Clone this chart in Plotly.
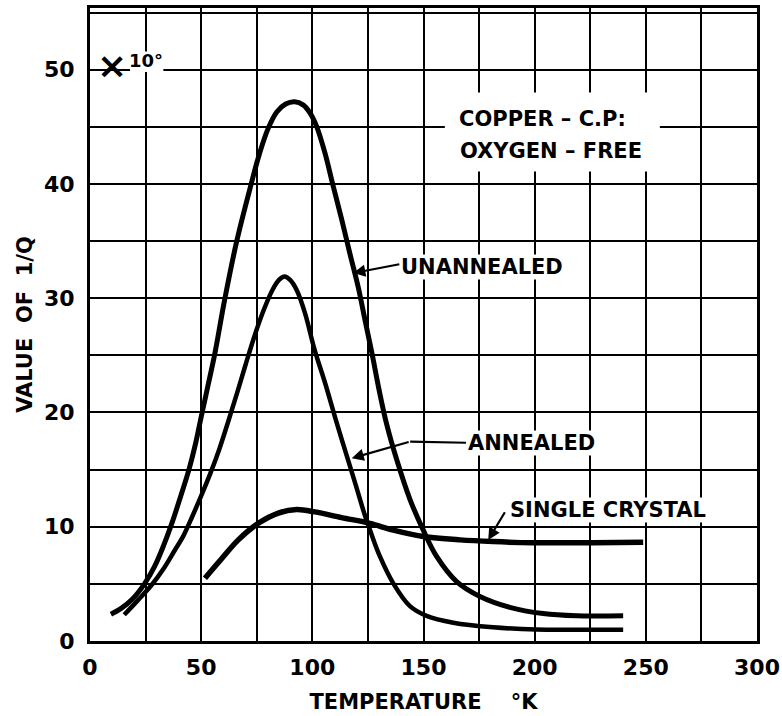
import plotly.graph_objects as go

# ---- data ----
unannealed_x = [9.4, 14.0, 19.0, 24.5, 29.0, 33.0, 37.0, 41.0, 44.5, 47.5, 50.0, 53.0,
                56.0, 60.5, 66.0, 72.5, 76.0, 80.0, 84.0, 88.0, 92.0, 96.0, 99.0, 102.0,
                105.7, 109.4, 113.2, 116.9, 120.6, 124.0, 127.0, 130.0, 133.4, 137.9,
                143.9, 149.9, 155.9, 164.9, 175.4, 188.8, 203.8, 218.8, 239.8]
unannealed_y = [2.35, 2.85, 3.65, 5.0, 6.5, 8.3, 10.4, 12.8, 15.0, 17.3, 19.6, 22.3,
                25.0, 29.8, 35.0, 40.0, 42.5, 44.8, 46.3, 47.0, 47.2, 46.9, 46.2, 45.0,
                42.7, 39.8, 36.9, 33.9, 31.0, 27.8, 25.0, 22.0, 19.0, 15.9,
                12.4, 9.7, 7.4, 5.2, 3.9, 2.95, 2.4, 2.2, 2.2]

annealed_x = [15.4, 21.7, 27.7, 33.0, 38.0, 42.0, 46.0, 50.0, 54.0, 58.0, 62.0, 66.0,
              70.0, 74.0, 78.0, 82.0, 85.0, 87.5, 90.0, 93.0, 96.7, 101.0, 105.7,
              110.2, 114.7, 119.3, 123.3, 126.5, 130.4, 136.4, 143.9, 151.4, 163.4,
              181.3, 200.8, 218.8, 239.8]
annealed_y = [2.3, 3.6, 4.9, 6.3, 7.9, 9.2, 10.9, 12.7, 14.6, 16.7, 19.1, 21.6,
              24.2, 26.7, 28.9, 30.7, 31.6, 31.9, 31.6, 30.7, 28.7, 25.5, 22.6,
              19.6, 16.7, 13.8, 11.2, 9.4, 7.4, 5.05, 3.05, 2.2, 1.6,
              1.2, 1.0, 0.98, 0.98]

single_x = [51.7, 59.2, 66.7, 75.7, 84.7, 92.9, 101.2, 113.2, 125.9, 136.4, 149.9,
            166.4, 181.3, 199.3, 226.3, 248.8]
single_y = [5.5, 7.2, 8.85, 10.3, 11.2, 11.5, 11.3, 10.8, 10.3, 9.7, 9.15,
            8.85, 8.7, 8.6, 8.6, 8.65]

x_ticks = [0, 50, 100, 150, 200, 250, 300]
y_ticks = [0, 10, 20, 30, 40, 50]

FONT = "DejaVu Sans"

fig = go.Figure()
for xs, ys, w in [(unannealed_x, unannealed_y, 5),
                  (annealed_x, annealed_y, 4.5),
                  (single_x, single_y, 5.5)]:
    fig.add_trace(go.Scatter(x=xs, y=ys, mode="lines",
                             line=dict(color="black", width=w, shape="spline", smoothing=1.0),
                             showlegend=False, hoverinfo="skip"))

# white areas interrupting the grid
fig.add_shape(type="rect", x0=159.6, x1=256.3, y0=41.1, y1=48.0,
              fillcolor="white", line=dict(width=0), layer="between")
fig.add_shape(type="rect", x0=18.0, x1=33.0, y0=49.8, y1=51.6,
              fillcolor="white", line=dict(width=0), layer="between")

txt = dict(family=FONT, size=21, color="black", weight="bold")
ann = []
ann.append(dict(x=9.8, y=50.0, text="×", showarrow=False, yshift=4,
                font=dict(family=FONT, size=36, color="black", weight="bold")))
ann.append(dict(x=25.3, y=50.0, text="10°", showarrow=False, yanchor="bottom", yshift=-3,
                font=dict(family=FONT, size=18, color="black", weight="bold")))
ann.append(dict(x=165, y=45.7, text="COPPER – C.P:", xanchor="left", showarrow=False, font=txt))
ann.append(dict(x=165.5, y=42.9, text="OXYGEN – FREE", xanchor="left", showarrow=False, font=txt))
ann.append(dict(x=139.6, y=32.75, text="UNANNEALED", xanchor="left", showarrow=False,
                font=txt, bgcolor="white", borderpad=0))
ann.append(dict(x=169.6, y=17.3, text="ANNEALED", xanchor="left", showarrow=False,
                font=txt, bgcolor="white", borderpad=0))
ann.append(dict(x=188.3, y=11.47, text="SINGLE CRYSTAL", xanchor="left", showarrow=False,
                font=txt, bgcolor="white", borderpad=0))
# arrows
arrow = dict(text="", showarrow=True, axref="x", ayref="y", arrowcolor="black")
ann.append(dict(x=118.4, y=32.2, ax=139.8, ay=33.0, arrowhead=2, arrowsize=1.1, arrowwidth=2.2, **arrow))
ann.append(dict(x=144.0, y=17.45, ax=169.8, ay=17.35, arrowhead=0, arrowwidth=2.2, **arrow))
ann.append(dict(x=117.7, y=16.0, ax=144.0, ay=17.45, arrowhead=2, arrowsize=1.1, arrowwidth=2.2, **arrow))
ann.append(dict(x=179.1, y=8.84, ax=187.0, ay=11.4, arrowhead=2, arrowsize=1.1, arrowwidth=2.2, **arrow))
fig.update_layout(annotations=ann)

axis_common = dict(showline=True, mirror=True, linecolor="black", linewidth=3,
                   showgrid=True, gridcolor="black", gridwidth=2, zeroline=False,
                   ticks="outside", tickcolor="rgba(0,0,0,0)",
                   tickfont=dict(family=FONT, size=22, color="black", weight="bold"))

fig.update_xaxes(range=[0, 300], tickvals=x_ticks, ticklen=5,
                 minor=dict(dtick=25, tick0=0, showgrid=True, gridcolor="black", gridwidth=2),
                 title=dict(text="TEMPERATURE\u00a0\u00a0\u00a0\u00a0°K", standoff=15,
                            font=dict(family=FONT, size=21, color="black", weight="bold")),
                 **axis_common)
fig.update_yaxes(range=[0, 55.4], tickvals=y_ticks, ticklen=8,
                 minor=dict(dtick=5, tick0=0, showgrid=True, gridcolor="black", gridwidth=2),
                 title=dict(text="VALUE\u00a0\u00a0OF\u00a0\u00a01/Q", standoff=6,
                            font=dict(family=FONT, size=21, color="black", weight="bold")),
                 **axis_common)

fig.update_layout(width=782, height=716, margin=dict(l=90, r=25, t=8, b=75, autoexpand=False),
                  plot_bgcolor="white", paper_bgcolor="white", showlegend=False)

fig.write_html("out.html")
